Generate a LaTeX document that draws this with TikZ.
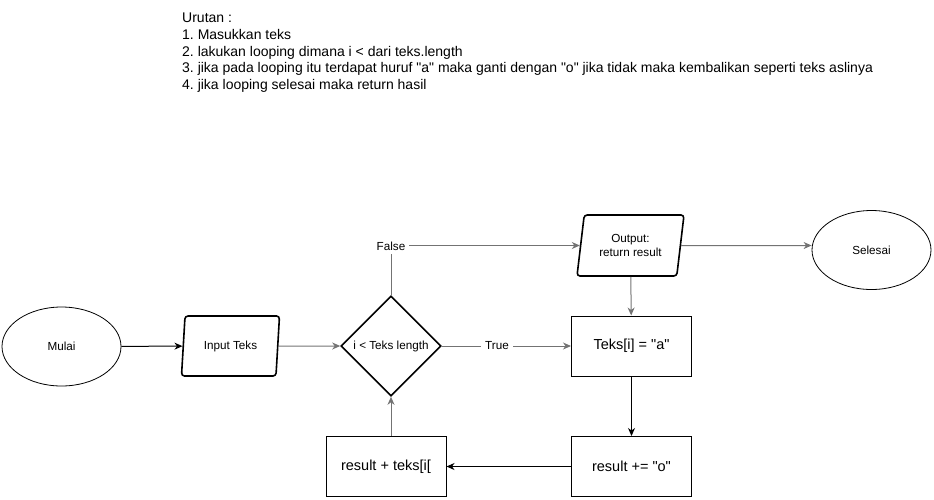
\documentclass[tikz,border=0pt]{standalone}
\usepackage{fontspec}
\setmainfont{Liberation Sans}[Ligatures=TeXOff]
\usetikzlibrary{shapes.geometric,arrows.meta}
\begin{document}
\frenchspacing
\begin{tikzpicture}[x=1pt,y=-1pt,
  every node/.style={font=\fontsize{11.7}{14}\selectfont, inner sep=0pt},
  term/.style={draw, ellipse, line width=0.8pt, minimum width=119pt, minimum height=79pt},
  io/.style={draw, trapezium, trapezium left angle=72, trapezium right angle=108, trapezium stretches body=true, rounded corners=3pt, line width=1.6pt, minimum width=98pt, minimum height=60pt, align=center},
  decision/.style={draw, diamond, line width=1.6pt, minimum width=100pt, minimum height=100pt},
  procbox/.style={draw, rectangle, line width=1pt, minimum width=120pt, minimum height=60pt, font=\fontsize{14.5}{17}\selectfont},
  lbl/.style={fill=white, inner sep=4pt},
  arr/.style={-{Stealth[length=8pt,width=7pt,inset=2.5pt]}, line width=1pt},
  garr/.style={arr, draw=black!55},
]
\useasboundingbox (0,0) rectangle (934,499);

\node[anchor=north west, align=left, font=\fontsize{14}{16.6}\selectfont] (title) at (182,13) {Urutan :\\1. Masukkan teks\\2. lakukan looping dimana i < dari teks.length\\3. jika pada looping itu terdapat huruf "a" maka ganti dengan "o" jika tidak maka kembalikan seperti teks aslinya\\4. jika looping selesai maka return hasil};

\node[term] (mulai) at (61.5,346.5) {Mulai};
\node[io] (input) at (230.5,346) {Input Teks};
\node[decision, label=center:{i < Teks length}] (dec) at (391,346) {};
\node[io, minimum width=107pt, minimum height=61pt] (out) at (630.5,245.5) {Output:\\return result};
\node[term] (sel) at (871.5,250) {Selesai};
\node[procbox] (cek) at (631.5,346) {Teks[i] = "a"};
\node[procbox] (tambah) at (631.5,466.5) {result += "o"};
\node[procbox] (gabung) at (386,466.5) {result + teks[i[};

\draw[arr] (mulai) -- (input);
\draw[garr] (input) -- (dec);
\draw[garr] (dec.north) |- (out);
\node[lbl] (flbl) at (391,246) {False};
\draw[garr] (out) -- (out -| sel.west);
\draw[garr] (out) -- (cek);
\draw[garr] (dec) -- (cek);
\node[lbl] (tlbl) at (497,346) {True};
\draw[arr] (cek) -- (tambah);
\draw[arr] (tambah) -- (gabung);
\draw[garr] (gabung.north -| dec) -- (dec.south);
\end{tikzpicture}
\end{document}
